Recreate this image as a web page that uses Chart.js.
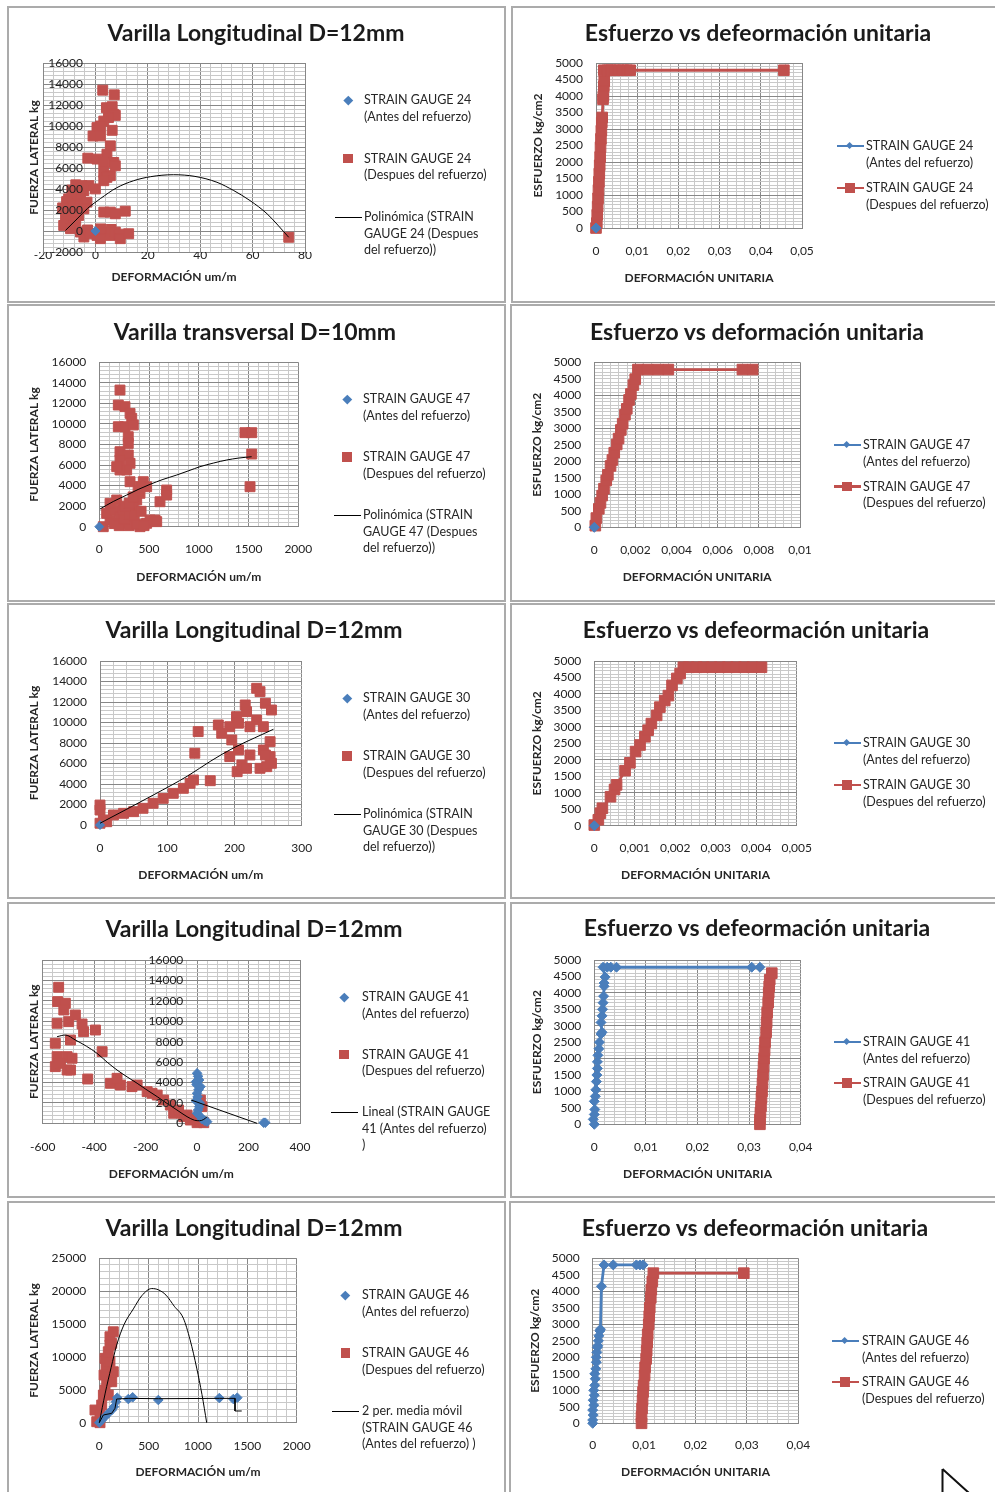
<!DOCTYPE html>
<html>
<head>
<meta charset="utf-8">
<script src="https://cdn.jsdelivr.net/npm/chart.js@4.4.1/dist/chart.umd.min.js"></script>
<style>
  body { margin: 0; background: #fff; }
  #page { position: relative; width: 995px; height: 1492px; overflow: hidden; font-family: Lato, sans-serif; color: #222; }
  .panel { position: absolute; border: 2px solid #ababab; box-sizing: border-box; }
  .titulo { position: absolute; transform: translate(-50%, -50%); font-weight: 700; font-size: 23px; white-space: nowrap; color: #1b1b1b; }
  .txt { position: absolute; font-size: 12.5px; line-height: 16px; white-space: nowrap; color: #262626; }
  .mk { position: absolute; }
  canvas { position: absolute; }
</style>
</head>
<body>
<div id="page"></div>
<script>
// ---- datos: fuerza lateral (kg) vs deformación (um/m) ----
const sg24Antes = [[0, 0]];
const sg24Despues = [[2.8, 13410], [7.2, 12970], [4.2, 11740], [6.4, 11840], [7.0, 11110], [7.6, 11010], [5.0, 10800], [3.2, 10470],
  [0.6, 9850], [1.9, 10000], [-0.9, 9050], [1.9, 9050], [6.4, 9590], [5.7, 8110], [4.4, 7320], [-2.9, 6940], [0.6, 6850],
  [3.2, 6530], [7.0, 6530], [7.6, 6210], [3.2, 5590], [5.7, 5270], [4.4, 5110], [3.2, 4790], [-2.5, 4320], [0.0, 4010],
  [-4.4, 3850], [-5.1, 4320], [-7.5, 4400], [-9.0, 3900], [-7.0, 3370], [-5.7, 3060], [-10.2, 3060], [-11.0, 2800],
  [-7.0, 2590], [-8.9, 2420], [-6.0, 2400], [-3.2, 2750], [-12.5, 2200], [-4.4, 2110], [-10.9, 1800], [-8.3, 1800],
  [-6.4, 1480], [-11.4, 1160], [-9.5, 1200], [-7.5, 900], [-12.1, 530], [-9.5, 220], [3.2, 1800], [5.7, 1800], [7.6, 1640],
  [11.4, 1890], [-5.7, -100], [-4.4, -570], [-3.0, 100], [-1.9, -260], [0.6, -420], [2.0, 200], [3.2, -100], [5.7, -420],
  [6.0, 150], [7.6, -100], [9.0, -300], [9.5, -730], [1.9, -730], [12.7, -260], [73.8, -600]];
const sg24Poli = [[-11.4, 60], [-7, 1150], [-3, 2150], [2, 3100], [8, 4100], [14.6, 4790], [21, 5170], [29.8, 5360],
  [38, 5200], [46.4, 4640], [52.8, 3850], [59, 2900], [65.5, 1640], [73.8, -600]];

const sg47Antes = [[0, 0]];
const sg47Despues = [[208, 13300], [191, 11840], [258, 11680], [309, 11030], [326, 10550], [191, 9730], [258, 9730], [342, 9900],
  [291, 8760], [291, 8110], [208, 7300], [291, 6980], [208, 6490], [309, 6170], [275, 5520], [208, 5520], [175, 5840],
  [309, 4380], [442, 4380], [476, 3890], [376, 2600], [409, 3250], [342, 1950], [610, 2430], [677, 3570], [677, 3080],
  [40, 0], [108, 650], [74, 1300], [158, 1620], [208, 970], [275, 330], [241, 1620], [342, 650], [409, 0], [476, 330],
  [560, 650], [510, 650], [577, 490], [175, 2600], [108, 2280], [150, 300], [200, 100], [300, 100], [380, 250], [450, 100],
  [250, 700], [300, 1200], [350, 1100], [420, 1500], [260, 2000], [300, 2300], [340, 2900], [390, 3500], [410, 3900],
  [1464, 9150], [1532, 9150], [1532, 7070], [1515, 3890]];
const sg47Poli = [[7, 1720], [140, 2450], [275, 3080], [390, 3620], [510, 4120], [640, 4600], [778, 5030], [900, 5450],
  [1012, 5840], [1150, 6200], [1280, 6490], [1400, 6680], [1531, 6810]];

const sg30Antes = [[0, 0]];
const sg30Despues = [[0, 1950], [0, 1460], [5, 490], [0, 170], [10, 320], [20, 980], [35, 1140], [50, 1300], [64, 1630],
  [79, 2120], [94, 2600], [109, 3090], [124, 3580], [134, 4070], [139, 4390], [146, 9110], [141, 7000], [164, 4320],
  [176, 9760], [181, 8950], [193, 9590], [196, 8300], [203, 10570], [206, 9930], [193, 6670], [206, 7320], [204, 5200],
  [216, 11710], [218, 11060], [233, 10250], [211, 5860], [218, 5530], [223, 6830], [223, 9590], [233, 13340], [238, 13010],
  [246, 11880], [255, 11220], [243, 9590], [253, 8130], [243, 7320], [238, 5530], [248, 5690], [253, 6670], [255, 6020],
  [246, 6830]];
const sg30Poli = [[0, 170], [40, 1550], [80, 2950], [131, 4810], [165, 6250], [198, 7500], [230, 8500], [258, 9340]];

const sg41Antes = [[0, 4900], [4, 4600], [-4, 4080], [8, 4240], [-2, 3800], [6, 3300], [0, 2940], [13, 3590], [2, 2600],
  [-4, 2200], [10, 2000], [8, 1630], [4, 1300], [0, 980], [13, 650], [20, 400], [30, 250], [39, 160], [259, 60], [265, 60]];
const sg41Despues = [[-538, 13330], [-542, 11920], [-512, 11760], [-518, 11100], [-499, 9960], [-544, 9800], [-473, 10610],
  [-447, 9730], [-441, 8980], [-395, 9140], [-551, 7840], [-492, 8160], [-544, 6530], [-505, 6530], [-486, 6370],
  [-551, 5550], [-505, 5220], [-492, 5220], [-531, 5880], [-369, 7020], [-425, 4340], [-337, 3920], [-298, 3750],
  [-253, 3590], [-233, 3750], [-311, 4410], [-194, 3100], [-175, 2940], [-155, 2770], [-130, 2280], [-104, 1790],
  [-91, 980], [-72, 1300], [-52, 650], [-39, 810], [-26, 320], [-13, 490], [0, 60], [13, 160], [26, 60], [19, 1630], [13, 2280]];
const sg41Poli = [[-544, 8490], [-512, 8650], [-473, 8160], [-430, 7550], [-389, 6860], [-350, 6000], [-311, 5220],
  [-272, 4550], [-233, 3920], [-194, 3250], [-155, 2610], [-117, 1950], [-78, 1300], [-39, 650], [-10, 300], [10, 250],
  [26, 380], [39, 650]];
const sg41Lineal = [[-23, 2280], [233, 0]];

const sg46Antes = [[0, 0], [24, 410], [58, 910], [91, 1430], [126, 1930], [149, 2430], [169, 3190], [182, 3800],
  [294, 3600], [338, 3860], [598, 3450], [1216, 3750], [1358, 3600], [1398, 3800]];
const sg46Despues = [[-26, 150], [-44, 1930], [7, 1170], [24, 2690], [41, 4210], [58, 4970], [75, 6230], [48, 7250],
  [68, 8770], [58, 9790], [108, 9270], [91, 10790], [126, 12070], [108, 13070], [142, 13830], [126, 6230], [142, 7750],
  [91, 4210], [108, 11810], [7, 0]];
const sg46Media = [[0, 0], [41, 1170], [126, 1430], [159, 2190], [176, 3600], [300, 3700], [600, 3650], [1216, 3700],
  [1375, 3700], [1375, 1780], [1443, 1780]];
const sg46Curva = [[0, 0], [60, 4500], [120, 8400], [176, 11800], [250, 14900], [345, 17300], [430, 19300], [531, 20400],
  [600, 20200], [676, 19400], [760, 17700], [851, 15900], [920, 12600], [987, 8300], [1040, 4300], [1088, 0]];

// ---- datos: esfuerzo (kg/cm2) vs deformación unitaria ----
const sg24EsfAntes = [[0, 0]];
const sg24EsfDespues = [[0, 0], [0.0002, 150], [0.0003, 400], [0.0004, 650], [0.0005, 900], [0.0006, 1150], [0.0007, 1400],
  [0.0008, 1650], [0.0009, 1900], [0.001, 2150], [0.0011, 2450], [0.0012, 2700], [0.0013, 2950], [0.0014, 3200],
  [0.0015, 3350], [0.0017, 3900], [0.0018, 4000], [0.0019, 4300], [0.002, 4450], [0.0019, 4780], [0.0028, 4780],
  [0.0036, 4780], [0.0045, 4780], [0.0055, 4780], [0.0065, 4780], [0.0075, 4780], [0.0083, 4780], [0.0456, 4780]];

const sg47EsfAntes = [[0, 0]];
const sg47EsfDespues = [[0.00005, 50], [0.0001, 280], [0.00022, 560], [0.0003, 740], [0.00038, 960], [0.00047, 1170],
  [0.00058, 1420], [0.00066, 1590], [0.00079, 1860], [0.00088, 2040], [0.00097, 2260], [0.00109, 2510], [0.00118, 2690],
  [0.00129, 2950], [0.00138, 3140], [0.00149, 3410], [0.00158, 3590], [0.00169, 3860], [0.00178, 4040], [0.0019, 4310],
  [0.00199, 4490], [0.00212, 4780], [0.0026, 4780], [0.0031, 4780], [0.0036, 4780], [0.0072, 4780], [0.0077, 4780]];

const sg30EsfAntes = [[0, 0]];
const sg30EsfDespues = [[0, 20], [0.0001, 180], [0.00015, 380], [0.0002, 530], [0.0004, 880], [0.0005, 1100],
  [0.00055, 1240], [0.00076, 1670], [0.00088, 1910], [0.00102, 2250], [0.00113, 2450], [0.00125, 2700], [0.00133, 2900],
  [0.00141, 3100], [0.00154, 3350], [0.00162, 3600], [0.00174, 3800], [0.00183, 3950], [0.00192, 4260], [0.00204, 4470],
  [0.00212, 4620], [0.0022, 4810], [0.00233, 4810], [0.00253, 4810], [0.0027, 4810], [0.0029, 4810], [0.0031, 4810],
  [0.0033, 4810], [0.0035, 4810], [0.0037, 4810], [0.0039, 4810], [0.00413, 4810]];

const sg41EsfAntes = [[0, 0], [-0.0002, 150], [0, 300], [0.0001, 450], [0, 700], [0.0002, 850], [0.0003, 1050],
  [0.0004, 1300], [0.0005, 1500], [0.0006, 1700], [0.0006, 1900], [0.0007, 2100], [0.0009, 2300], [0.001, 2500],
  [0.0013, 2750], [0.0015, 2800], [0.0013, 3100], [0.0015, 3300], [0.0016, 3500], [0.0017, 3700], [0.0018, 3900],
  [0.0019, 4200], [0.0019, 4300], [0.0021, 4480], [0.0017, 4780], [0.0025, 4780], [0.0032, 4780], [0.0043, 4780],
  [0.0305, 4780], [0.0321, 4780]];
const sg41EsfDespues = [[0.0321, 0], [0.0321, 150], [0.0322, 350], [0.0323, 550], [0.0324, 800], [0.0325, 1000],
  [0.0326, 1250], [0.0327, 1500], [0.0328, 1750], [0.0329, 2000], [0.033, 2250], [0.0331, 2500], [0.0333, 2800],
  [0.0334, 3100], [0.0335, 3400], [0.0337, 3700], [0.0338, 4000], [0.0339, 4200], [0.034, 4400], [0.0344, 4600]];

const sg46EsfAntes = [[0, 0], [0, 100], [0.0001, 250], [0, 400], [0.0002, 550], [0.0001, 700], [0.0003, 850],
  [0.0002, 1000], [0.0004, 1150], [0.0005, 1350], [0.0004, 1500], [0.0006, 1650], [0.0007, 1850], [0.0007, 2000],
  [0.0008, 2150], [0.0009, 2300], [0.001, 2350], [0.0011, 2500], [0.0012, 2650], [0.0014, 2800], [0.0015, 2850],
  [0.0017, 4150], [0.0022, 4800], [0.004, 4800], [0.0085, 4800], [0.0092, 4800], [0.0098, 4800]];
const sg46EsfDespues = [[0.0095, 0], [0.0095, 200], [0.0096, 450], [0.0097, 700], [0.0098, 950], [0.0099, 1150],
  [0.0101, 1450], [0.0102, 1700], [0.0104, 1950], [0.0105, 2200], [0.0106, 2450], [0.0107, 2700], [0.0109, 3000],
  [0.011, 3250], [0.0111, 3500], [0.0113, 3800], [0.0114, 4050], [0.0116, 4300], [0.0118, 4550], [0.0294, 4550]];

// ejes: [min, max, paso menor, paso mayor, paso de etiqueta]
const ejeFuerza24 = [-2000, 16000, 400, 2000, 2000];
const ejeFuerza = [0, 16000, 400, 2000, 2000];
const ejeFuerza46 = [0, 25000, 1000, 5000, 5000];
const ejeEsfuerzo = [0, 5000, 100, 1000, 500];
const ejeDef24 = [-20, 80, 4, 20, 20];
const ejeDef47 = [0, 2000, 100, 500, 500];
const ejeDef30 = [0, 300, 20, 100, 100];
const ejeDef41 = [-600, 400, 40, 200, 200];
const ejeDef46 = [0, 2000, 100, 500, 500];
const ejeUnit24 = [0, 0.05, 0.002, 0.01, 0.01];
const ejeUnit47 = [0, 0.01, 0.0004, 0.002, 0.002];
const ejeUnit30 = [0, 0.005, 0.0002, 0.001, 0.001];
const ejeUnit41 = [0, 0.04, 0.002, 0.01, 0.01];
const ejeUnit46 = [0, 0.04, 0.002, 0.01, 0.01];

// ---- dibujo ----
Chart.defaults.font.family = 'Lato, sans-serif';
Chart.defaults.font.size = 12;
Chart.defaults.color = '#222';

const AZUL = '#4a7ebb';
const ROJO = '#c0504d';
const MAYOR = '#878787';
const MENOR = '#c9c9c9';
const page = document.getElementById('page');

function el(tag, cls, css, text) {
  const e = document.createElement(tag);
  if (cls) e.className = cls;
  e.style.cssText = css;
  if (text !== undefined) e.textContent = text;
  page.appendChild(e);
  return e;
}

const pts = arr => arr.map(([x, y]) => ({ x, y }));
const multiplo = (v, paso) => Math.abs(v / paso - Math.round(v / paso)) < 1e-6;
const fmt = v => String(Math.round(v * 1e6) / 1e6).replace('.', ',');

const medidor = document.createElement('canvas').getContext('2d');
function anchoMax(eje) {
  const [min, max, , , paso] = eje;
  medidor.font = '12px Lato, sans-serif';
  let w = 0;
  for (let v = min; v <= max + 1e-9; v += paso) w = Math.max(w, medidor.measureText(fmt(v)).width);
  return w;
}

const dispersion = (data, color, estilo, r) => ({
  data: pts(data), showLine: false, pointStyle: estilo, pointRadius: r,
  backgroundColor: color, borderColor: color, pointBorderWidth: 1, clip: false
});
const tendencia = (data, suave) => ({
  data: pts(data), showLine: true, pointRadius: 0, borderColor: '#000', borderWidth: 1,
  cubicInterpolationMode: suave ? 'monotone' : 'default', tension: 0, clip: false
});
const serie = (data, color, estilo, r) => ({
  data: pts(data), showLine: true, borderColor: color, borderWidth: 2.8, backgroundColor: color,
  pointStyle: estilo, pointRadius: r, pointBorderColor: color, pointBorderWidth: 1, tension: 0, clip: false
});

function escala(eje, extra) {
  const [min, max, menor, mayor, etiqueta] = eje;
  return Object.assign({
    type: 'linear', min, max,
    ticks: {
      stepSize: menor, autoSkip: false, maxRotation: 0, minRotation: 0,
      callback: v => multiplo(v, etiqueta) ? fmt(v) : ''
    },
    grid: {
      drawTicks: false, lineWidth: 1,
      color: c => (c.tick && multiplo(c.tick.value, mayor)) ? MAYOR : MENOR
    },
    border: { display: true, color: MAYOR, width: 1 }
  }, extra);
}

function marca(tipo, x, y) {
  if (tipo === 'diamante') {
    el('div', 'mk', `left:${x - 3.3}px;top:${y - 3.3}px;width:6.6px;height:6.6px;background:${AZUL};transform:rotate(45deg)`);
  } else if (tipo === 'cuadro') {
    el('div', 'mk', `left:${x - 4.6}px;top:${y - 4.6}px;width:9.2px;height:9.2px;background:${ROJO}`);
  } else if (tipo === 'tendencia') {
    el('div', 'mk', `left:${x - 13.5}px;top:${y - 0.5}px;width:27px;height:1px;background:#000`);
  } else if (tipo === 'lineaAzul') {
    el('div', 'mk', `left:${x - 13.5}px;top:${y - 1.25}px;width:27px;height:2.5px;background:${AZUL}`);
    el('div', 'mk', `left:${x - 2.6}px;top:${y - 2.6}px;width:5.2px;height:5.2px;background:${AZUL};transform:rotate(45deg)`);
  } else {
    el('div', 'mk', `left:${x - 13.5}px;top:${y - 1.25}px;width:27px;height:2.5px;background:${ROJO}`);
    el('div', 'mk', `left:${x - 4.8}px;top:${y - 4.8}px;width:9.6px;height:9.6px;background:${ROJO}`);
  }
}

function leyenda(l) {
  l.items.forEach((it, i) => {
    const y = l.y + i * l.sep;
    marca(it[0], l.mx, y);
    it[1].forEach((t, j) => el('div', 'txt', `left:${l.tx}px;top:${y + j * 16.5 - 8}px`, t));
  });
}

function grafico(g) {
  const [bx, by, br, bb] = g.caja;
  const W = br - bx, H = bb - by;
  el('div', 'panel', `left:${bx}px;top:${by}px;width:${W}px;height:${H}px`);
  const cv = el('canvas', '', `left:${bx}px;top:${by}px`);
  cv.width = W; cv.height = H;

  const [pl, pt, pr, pb] = g.area.map((v, i) => v - (i % 2 ? by : bx));
  const lh = 12 * 1.2;
  const yIzq = g.yTituloX - bx - lh / 2;
  const xAbajo = g.xTituloY - by + lh / 2;
  const fuenteTitulo = { size: 12, weight: 'bold' };

  const x = escala(g.ejeX, {
    afterFit: s => { s.height = xAbajo - pb; },
    title: { display: true, text: g.textoX, font: fuenteTitulo, color: '#262626', padding: 0 }
  });
  x.ticks.padding = g.padX;
  const y = escala(g.ejeY, {
    weight: 1,
    afterFit: s => { s.width = pl - yIzq; },
    title: { display: true, text: g.textoY, font: fuenteTitulo, color: '#262626', padding: 0 }
  });
  y.ticks.padding = 13;
  const scales = { x, y };

  if (g.etiquetasEn !== undefined) {
    // el eje vertical cruza en x = 0: sus números van dentro del área, encima de los puntos
    y.ticks.display = false;
    const yEtiquetas = escala(g.ejeY, {
      weight: 0,
      grid: { display: false },
      border: { display: false },
      afterFit: s => { s.width = 0; s.paddingTop = 0; s.paddingBottom = 0; }
    });
    Object.assign(yEtiquetas.ticks, {
      z: 1, mirror: true, crossAlign: 'far', padding: g.etiquetasEn - g.area[0] - anchoMax(g.ejeY)
    });
    scales.yEtiquetas = yEtiquetas;
  }

  new Chart(cv, {
    type: 'scatter',
    data: { datasets: g.series },
    options: {
      responsive: false, animation: false, devicePixelRatio: 1,
      layout: { padding: { left: yIzq, top: pt, right: W - pr, bottom: H - xAbajo } },
      plugins: { legend: { display: false }, tooltip: { enabled: false } },
      scales
    }
  });

  el('div', 'titulo', `left:${g.centro[0]}px;top:${g.centro[1]}px`, g.titulo);
  leyenda(g.leyenda);
}

const antes = n => ['STRAIN GAUGE ' + n, '(Antes del refuerzo)'];
const despues = n => ['STRAIN GAUGE ' + n, '(Despues del refuerzo)'];
const DEF = 'DEFORMACIÓN um/m', UNIT = 'DEFORMACIÓN UNITARIA';
const FZA = 'FUERZA LATERAL kg', ESF = 'ESFUERZO kg/cm2';
const T12 = 'Varilla Longitudinal D=12mm', TESF = 'Esfuerzo vs defeormación unitaria';

const graficos = [
  { caja: [7, 6, 506, 303], area: [43, 63, 305, 252], centro: [256, 32], titulo: T12,
    ejeX: ejeDef24, ejeY: ejeFuerza24, textoX: DEF, textoY: FZA, yTituloX: 34, xTituloY: 277, padX: -4, etiquetasEn: 83,
    series: [tendencia(sg24Poli, true), dispersion(sg24Antes, AZUL, 'rectRot', 4.5), dispersion(sg24Despues, ROJO, 'rect', 7)],
    leyenda: { mx: 348, tx: 364, y: 100, sep: 58.5, items: [['diamante', antes(24)], ['cuadro', despues(24)],
      ['tendencia', ['Polinómica (STRAIN', 'GAUGE 24 (Despues', 'del refuerzo))']]] } },
  { caja: [511, 6, 1000, 303], area: [596, 63, 802, 228], centro: [758, 32], titulo: TESF,
    ejeX: ejeUnit24, ejeY: ejeEsfuerzo, textoX: UNIT, textoY: ESF, yTituloX: 538, xTituloY: 278, padX: 15.8,
    series: [serie(sg24EsfAntes, AZUL, 'rectRot', 5), serie(sg24EsfDespues, ROJO, 'rect', 7.5)],
    leyenda: { mx: 850, tx: 866, y: 146, sep: 42, items: [['lineaAzul', antes(24)], ['lineaRoja', despues(24)]] } },

  { caja: [7, 304, 506, 602], area: [99.3, 362.3, 298.3, 526.7], centro: [255, 331], titulo: 'Varilla transversal D=10mm',
    ejeX: ejeDef47, ejeY: ejeFuerza, textoX: DEF, textoY: FZA, yTituloX: 34, xTituloY: 577, padX: 15.1,
    series: [tendencia(sg47Poli, true), dispersion(sg47Antes, AZUL, 'rectRot', 4.5), dispersion(sg47Despues, ROJO, 'rect', 7)],
    leyenda: { mx: 347, tx: 363, y: 399, sep: 58, items: [['diamante', antes(47)], ['cuadro', despues(47)],
      ['tendencia', ['Polinómica (STRAIN', 'GAUGE 47 (Despues', 'del refuerzo))']]] } },
  { caja: [510, 304, 1000, 602], area: [594.3, 362.3, 800, 527.3], centro: [757, 331], titulo: 'Esfuerzo vs deformación unitaria',
    ejeX: ejeUnit47, ejeY: ejeEsfuerzo, textoX: UNIT, textoY: ESF, yTituloX: 537, xTituloY: 577, padX: 15.5,
    series: [serie(sg47EsfAntes, AZUL, 'rectRot', 5), serie(sg47EsfDespues, ROJO, 'rect', 7.5)],
    leyenda: { mx: 847, tx: 863, y: 445, sep: 41.5, items: [['lineaAzul', antes(47)], ['lineaRoja', despues(47)]] } },

  { caja: [7, 603, 506, 899], area: [100, 661, 301.7, 825], centro: [254, 629], titulo: T12,
    ejeX: ejeDef30, ejeY: ejeFuerza, textoX: DEF, textoY: FZA, yTituloX: 34, xTituloY: 875, padX: 15.8,
    series: [tendencia(sg30Poli, true), dispersion(sg30Antes, AZUL, 'rectRot', 4.5), dispersion(sg30Despues, ROJO, 'rect', 7)],
    leyenda: { mx: 347, tx: 363, y: 698, sep: 58, items: [['diamante', antes(30)], ['cuadro', despues(30)],
      ['tendencia', ['Polinómica (STRAIN', 'GAUGE 30 (Despues', 'del refuerzo))']]] } },
  { caja: [510, 603, 1000, 899], area: [594.3, 661, 796.7, 825.7], centro: [756, 629], titulo: TESF,
    ejeX: ejeUnit30, ejeY: ejeEsfuerzo, textoX: UNIT, textoY: ESF, yTituloX: 537, xTituloY: 875, padX: 15.1,
    series: [serie(sg30EsfAntes, AZUL, 'rectRot', 5), serie(sg30EsfDespues, ROJO, 'rect', 7.5)],
    leyenda: { mx: 847, tx: 863, y: 743, sep: 42, items: [['lineaAzul', antes(30)], ['lineaRoja', despues(30)]] } },

  { caja: [7, 902, 506, 1198], area: [42.7, 960, 300, 1123.3], centro: [254, 928], titulo: T12,
    ejeX: ejeDef41, ejeY: ejeFuerza, textoX: DEF, textoY: FZA, yTituloX: 34, xTituloY: 1174, padX: 16.5, etiquetasEn: 183.3,
    series: [tendencia(sg41Lineal, false), tendencia(sg41Poli, true), dispersion(sg41Antes, AZUL, 'rectRot', 4.8),
      dispersion(sg41Despues, ROJO, 'rect', 7)],
    leyenda: { mx: 344, tx: 362, y: 997, sep: 57.5, items: [['diamante', antes(41)], ['cuadro', despues(41)],
      ['tendencia', ['Lineal (STRAIN GAUGE', '41 (Antes del refuerzo)', ')']]] } },
  { caja: [510, 902, 1000, 1198], area: [594.3, 960, 800.7, 1124.3], centro: [757, 927], titulo: TESF,
    ejeX: ejeUnit41, ejeY: ejeEsfuerzo, textoX: UNIT, textoY: ESF, yTituloX: 537, xTituloY: 1174, padX: 15.5,
    series: [serie(sg41EsfAntes, AZUL, 'rectRot', 5), serie(sg41EsfDespues, ROJO, 'rect', 7.5)],
    leyenda: { mx: 847, tx: 863, y: 1042, sep: 41, items: [['lineaAzul', antes(41)], ['lineaRoja', despues(41)]] } },

  { caja: [7, 1201, 506, 1500], area: [99.3, 1258.3, 296.7, 1422.7], centro: [254, 1227], titulo: T12,
    ejeX: ejeDef46, ejeY: ejeFuerza46, textoX: DEF, textoY: FZA, yTituloX: 34, xTituloY: 1472, padX: 15.8,
    series: [tendencia(sg46Media, false), tendencia(sg46Curva, true), dispersion(sg46Antes, AZUL, 'rectRot', 4.8),
      dispersion(sg46Despues, ROJO, 'rect', 7)],
    leyenda: { mx: 345.7, tx: 362, y: 1295, sep: 58, items: [['diamante', antes(46)], ['cuadro', despues(46)],
      ['tendencia', ['2 per. media móvil', '(STRAIN GAUGE 46', '(Antes del refuerzo) )']]] } },
  { caja: [509, 1201, 1000, 1500], area: [592.7, 1258.3, 798.3, 1423.3], centro: [755, 1227], titulo: TESF,
    ejeX: ejeUnit46, ejeY: ejeEsfuerzo, textoX: UNIT, textoY: ESF, yTituloX: 535, xTituloY: 1472, padX: 15,
    series: [serie(sg46EsfAntes, AZUL, 'rectRot', 5), serie(sg46EsfDespues, ROJO, 'rect', 7.5)],
    leyenda: { mx: 845, tx: 862, y: 1341, sep: 41, items: [['lineaAzul', antes(46)], ['lineaRoja', despues(46)]] } }
];

graficos.forEach(grafico);

// puntero del ratón en la esquina inferior
const svgNS = 'http://www.w3.org/2000/svg';
const svg = document.createElementNS(svgNS, 'svg');
svg.setAttribute('width', '40'); svg.setAttribute('height', '32');
svg.style.cssText = 'position:absolute;left:935px;top:1462px';
const path = document.createElementNS(svgNS, 'path');
path.setAttribute('d', 'M7.5 7 V32 M7.5 7 L34 31');
path.setAttribute('stroke', '#111'); path.setAttribute('stroke-width', '2'); path.setAttribute('fill', 'none');
svg.appendChild(path);
page.appendChild(svg);
</script>
</body>
</html>
